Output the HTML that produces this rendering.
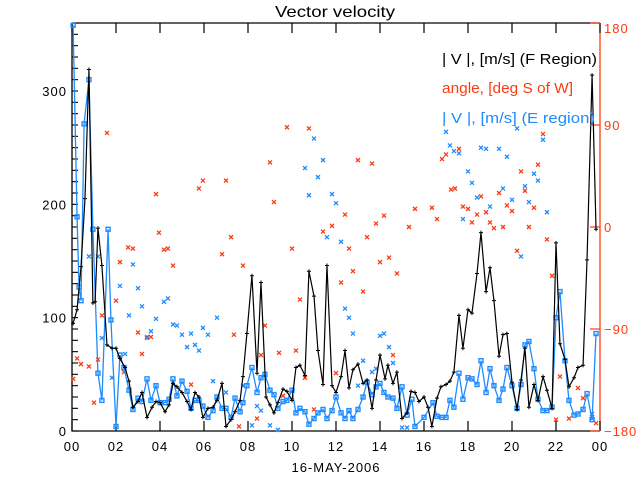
<!DOCTYPE html>
<html><head><meta charset="utf-8"><style>
html,body{margin:0;padding:0;background:#fff;}
svg{display:block;font-family:"Liberation Sans",sans-serif;}
</style></head><body>
<svg id="chart" width="640" height="480" viewBox="0 0 640 480" xmlns="http://www.w3.org/2000/svg">
<rect width="640" height="480" fill="#fff"/>
<text x="275" y="17" font-size="16" textLength="120" lengthAdjust="spacingAndGlyphs">Vector velocity</text>
<g id="axes"></g>
<g id="marks"></g>
<text x="442" y="64" font-size="15" fill="#000" textLength="155" lengthAdjust="spacingAndGlyphs">| V |, [m/s] (F Region)</text>
<text x="442" y="93" font-size="15" fill="#ff3a10" textLength="131" lengthAdjust="spacingAndGlyphs">angle, [deg S of W]</text>
<text x="442" y="123" font-size="15" fill="#1e8cff" textLength="153" lengthAdjust="spacingAndGlyphs">| V |, [m/s] (E region)</text>
<text x="336" y="472" font-size="13" text-anchor="middle" letter-spacing="1">16-MAY-2006</text>
</svg>
<script>
const xTicks=["00","02","04","06","08","10","12","14","16","18","20","22","00"];
const leftTicks=[0,100,200,300];
const rightTicks=[-180,-90,0,90,180];
const fHours=[0.05,0.23,0.41,0.59,0.77,0.95,1.05,1.18,1.36,1.59,1.82,2.0,2.18,2.41,2.59,2.77,3.0,3.18,3.41,3.64,3.82,4.0,4.23,4.41,4.59,4.77,5.0,5.23,5.41,5.59,5.77,5.95,6.18,6.41,6.59,6.82,7.0,7.23,7.41,7.64,7.77,7.95,8.18,8.41,8.59,8.82,9.0,9.18,9.36,9.59,9.77,10.0,10.18,10.36,10.59,10.77,11.0,11.18,11.41,11.59,11.82,12.0,12.23,12.41,12.59,12.77,13.0,13.23,13.41,13.64,13.82,14.0,14.23,14.36,14.59,14.77,15.0,15.23,15.41,15.59,15.77,16.0,16.18,16.36,16.59,16.77,17.0,17.18,17.36,17.59,17.77,18.0,18.18,18.41,18.59,18.82,19.0,19.18,19.41,19.59,19.77,20.0,20.23,20.41,20.59,20.77,21.0,21.18,21.41,21.59,21.82,22.0,22.18,22.41,22.59,22.82,23.0,23.23,23.41,23.64,23.82];
const fSpeed=[95,107,145,205,319,113,114,179,146,76,73,73,64,56,44,21,26,34,12,21,26,25,17,23,42,39,34,26,19,34,30,12,20,21,27,42,4,10,17,27,48,86,137,51,131,30,23,16,25,37,35,27,56,58,49,141,119,71,41,146,40,34,48,71,38,54,59,42,45,20,45,67,46,58,42,52,11,16,35,34,26,30,21,4,29,39,41,44,52,102,73,107,104,139,175,123,144,115,66,85,86,43,19,45,73,21,41,27,48,36,20,166,77,63,39,47,56,58,151,314,178];
const eHours=[0.05,0.23,0.32,0.41,0.55,0.77,0.95,1.18,1.36,1.64,1.77,2.0,2.18,2.36,2.59,2.77,3.0,3.18,3.41,3.59,3.82,4.0,4.23,4.41,4.59,4.77,5.0,5.23,5.41,5.59,5.77,5.95,6.18,6.41,6.59,6.82,7.0,7.23,7.41,7.64,7.77,7.95,8.18,8.41,8.59,8.77,9.0,9.18,9.36,9.59,9.77,10.0,10.18,10.36,10.59,10.77,11.0,11.18,11.41,11.59,11.82,12.0,12.23,12.41,12.59,12.77,13.0,13.23,13.41,13.64,13.82,14.0,14.18,14.36,14.59,14.77,15.0,15.23,15.45,15.59,16.0,16.41,16.59,16.82,17.0,17.18,17.36,17.59,17.77,18.0,18.18,18.41,18.59,18.82,19.0,19.18,19.41,19.59,19.77,20.0,20.23,20.41,20.59,20.77,21.0,21.18,21.41,21.59,21.82,22.0,22.18,22.41,22.59,22.82,23.0,23.23,23.41,23.64,23.82];
const eSpeed=[358,189,127,115,271,310,178,51,27,178,98,4,67,56,36,19,29,26,46,27,40,25,25,28,46,31,44,35,20,27,27,22,12,18,30,20,20,12,29,17,25,40,56,34,47,50,36,32,20,26,27,36,16,20,17,6,11,16,19,11,18,30,16,11,18,11,19,30,43,32,39,42,34,30,29,20,39,14,28,4,12,25,13,12,12,27,21,51,28,47,46,41,62,34,55,40,27,37,56,40,20,41,76,79,55,28,18,18,21,100,123,62,27,14,15,19,33,10,86];
const fAngleHours=[1.59,0.23,0.41,0.77,1.18,1.36,1.0,0.05,2.0,2.18,2.55,2.77,3.0,3.18,3.41,3.59,3.82,3.95,4.18,4.36,4.59,5.41,5.77,5.95,6.82,7.0,7.23,7.36,7.77,7.59,2.36,9.0,9.18,9.77,10.77,10.0,10.36,8.77,8.59,9.41,10.18,10.59,9.59,8.41,11.0,11.41,11.82,12.0,12.23,12.41,12.59,12.77,13.0,13.23,13.41,13.64,13.82,14.0,14.18,14.41,14.59,14.77,15.32,15.59,16.36,16.59,16.82,17.0,17.23,17.41,17.59,17.77,18.0,18.18,18.41,18.59,18.82,19.0,19.18,19.41,19.59,19.77,20.0,20.23,20.41,20.59,20.77,21.0,21.18,21.41,21.59,21.82,22.0,22.18,22.59,23.0,23.23,23.64,23.82];
const fAngle=[83,-116,-121,-123,-117,-78,-155,-134,-65,-31,-18,-19,-93,-112,-97,-97,29,-5,-20,-19,-34,-139,34,41,-24,41,-9,-95,-34,-176,-128,57,22,88,87,-19,-64,-87,-113,-111,-109,-133,-149,-169,-161,-4,1,-129,-49,11,-19,-39,59,-57,-9,56,3,-31,10,-27,-113,-41,0,16,17,7,60,64,33,34,69,18,16,4,11,27,13,4,-1,30,0,19,14,-21,49,32,0,17,55,82,-11,-43,-170,-132,-169,-142,-151,-165,-173];
const eAngleHours=[0.77,1.18,1.36,1.82,2.18,2.41,2.59,2.77,3.0,3.18,3.41,3.59,3.82,4.18,4.36,4.59,4.77,5.0,5.23,5.41,5.59,5.77,5.95,6.18,6.41,6.59,7.0,7.77,8.18,8.41,8.59,9.0,9.36,10.59,10.77,11.0,11.18,11.41,11.59,11.82,12.0,12.23,12.41,12.59,12.77,13.0,13.23,13.64,13.82,14.0,14.18,14.41,14.59,15.0,15.23,17.0,17.18,17.36,17.59,17.77,18.0,18.18,18.41,18.59,18.82,19.0,19.41,19.59,19.77,20.0,20.23,20.41,20.59,20.77,21.0,21.18,21.41,21.59,23.64];
const eAngle=[-26,-26,-98,-133,-52,-112,-78,-33,-54,-70,-98,-92,-81,-66,-63,-86,-87,-95,-106,-94,-104,-109,-89,-95,-136,-80,-146,-140,-175,-158,-162,-175,-179,52,28,78,44,59,-9,29,21,-13,-72,-80,-94,-140,-118,-128,-125,-96,-94,-106,-120,-177,-177,84,72,67,65,7,49,39,26,70,69,18,69,34,62,24,87,-26,36,22,47,41,77,13,-169];

const X0=72,X1=600,Y0=431,Y1=23;
const NS="http://www.w3.org/2000/svg";
function xs(h){return X0+(X1-X0)*h/24;}
function ys(v){return Y0-(Y0-Y1)*Math.min(v,360)/360;}
function ya(a){return Y0-(Y0-Y1)*(a+180)/360;}
function mk(tag,attrs,parent){const e=document.createElementNS(NS,tag);for(const k in attrs)e.setAttribute(k,attrs[k]);parent.appendChild(e);return e;}
const axes=document.getElementById('axes');
const marks=document.getElementById('marks');

const frame=mk('path',{d:`M${X0},${Y1}H${X1}M${X0},${Y1}V${Y0}H${X1}`,stroke:'#000','stroke-width':1.3,fill:'none'},axes);


const ra=mk('line',{x1:X1,y1:Y1,x2:X1,y2:Y0,stroke:'#ff3a10','stroke-width':1.3},axes);



xTicks.forEach((t,i)=>{
  const x=xs(i*2);
  mk('line',{x1:x,y1:Y0,x2:x,y2:Y0-10,stroke:'#000','stroke-width':1.2},axes);
  mk('line',{x1:x,y1:Y1,x2:x,y2:Y1+10,stroke:'#000','stroke-width':1.2},axes);
  const tx=mk('text',{x:x,y:Y0+20,'font-size':13,'text-anchor':'middle','letter-spacing':1},axes);
  tx.textContent=t;
  
  
});
for(let v=0;v<=360;v+=10){
  const y=ys(v);
  mk('line',{x1:X0,y1:y,x2:X0+6,y2:y,stroke:'#000','stroke-width':1.1},axes);
}
leftTicks.forEach(v=>{
  const tx=mk('text',{x:X0-5,y:ys(v)+5,'font-size':13,'text-anchor':'end','letter-spacing':1},axes);
  tx.textContent=v;
  
  
});
rightTicks.forEach(a=>{
  const y=ya(a);
  mk('line',{x1:X1,y1:y,x2:X1-10,y2:y,stroke:'#ff3a10','stroke-width':1.2},axes);
  const tx=mk('text',{x:X1+4,y:(a===180?y+10:y+5),'font-size':13,fill:'#ff3a10','letter-spacing':1},axes);
  tx.textContent=(a<0?'\u2212':'')+Math.abs(a);
  
  
});

function cross(x,y,col,name){
  const g=mk('path',{d:`M${x-2},${y-2}L${x+2},${y+2}M${x-2},${y+2}L${x+2},${y-2}`,stroke:col,'stroke-width':1.3},marks);
  
  
}
fAngleHours.forEach((h,i)=>cross(xs(h),ya(fAngle[i]),'#ff3a10','angle-point-f'));
eAngleHours.forEach((h,i)=>cross(xs(h),ya(eAngle[i]),'#1e8cff','angle-point-e'));

const ePath=mk('polyline',{points:eHours.map((h,i)=>xs(h)+','+ys(eSpeed[i])).join(' '),fill:'none',stroke:'#1e8cff','stroke-width':1.3},marks);


eHours.forEach((h,i)=>{
  const r=mk('rect',{x:xs(h)-2,y:ys(eSpeed[i])-2,width:4,height:4,fill:'none',stroke:'#1e8cff','stroke-width':1.4},marks);
  
  
});
const fPath=mk('polyline',{points:fHours.map((h,i)=>xs(h)+','+ys(fSpeed[i])).join(' '),fill:'none',stroke:'#000','stroke-width':1.2},marks);


fHours.forEach((h,i)=>{
  const x=xs(h),y=ys(fSpeed[i]);
  const p=mk('path',{d:`M${x-2},${y}H${x+2}M${x},${y-2}V${y+2}`,stroke:'#000','stroke-width':1},marks);
  
  
});
</script>
</body></html>
